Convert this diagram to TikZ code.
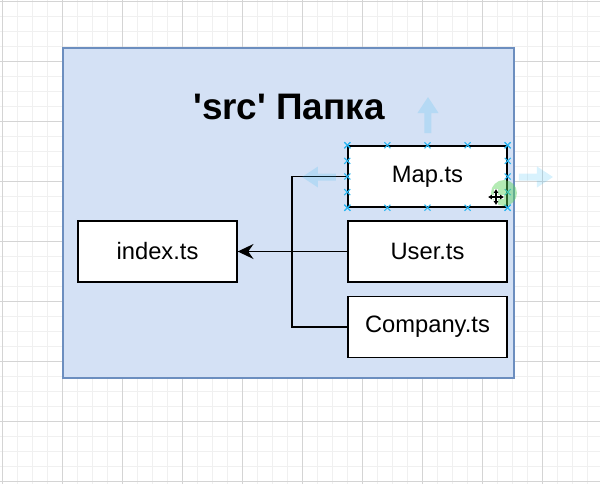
\documentclass[tikz,border=0pt]{standalone}
\usepackage{fontspec}
\setmainfont{Liberation Sans}
\usetikzlibrary{arrows.meta, positioning, calc}
\definecolor{gridlight}{HTML}{F0F0F0}
\definecolor{griddark}{HTML}{D4D4D4}
\definecolor{folderfill}{HTML}{D4E1F5}
\definecolor{folderline}{HTML}{6C8EBF}
\definecolor{handleblue}{HTML}{29B6F2}
\definecolor{grabgreen}{HTML}{5AD35A}

\tikzset{
  gridminor/.style={gridlight, line width=0.6pt},
  gridmajor/.style={griddark, line width=0.6pt},
  folderbox/.style={draw=folderline, fill=folderfill, line width=0.8pt},
  foldertitle/.style={font=\fontsize{21}{24}\selectfont\bfseries},
  filebox/.style={draw=black, fill=white, line width=0.8pt, minimum width=3.18cm,
    minimum height=1.22cm, inner sep=0pt, font=\fontsize{13.5}{16}\selectfont},
  link/.style={draw=black, line width=0.8pt},
  handlemark/.style={handleblue, line width=0.6pt},
  hoverarrow/.style={fill=handleblue, fill opacity=0.18}
}

\begin{document}
\begin{tikzpicture}[x=0.02cm, y=-0.02cm]
  \useasboundingbox (0,0) rectangle (600,484);

  % background grid
  \foreach \gx in {2.7,17.7,...,600} \draw[gridminor] (\gx,0) -- (\gx,484);
  \foreach \gy in {1.7,16.7,...,484} \draw[gridminor] (0,\gy) -- (600,\gy);
  \foreach \gx in {2.7,62.7,...,600} \draw[gridmajor] (\gx,0) -- (\gx,484);
  \foreach \gy in {1.7,61.7,...,484} \draw[gridmajor] (0,\gy) -- (600,\gy);

  % the folder
  \draw[folderbox] (63,48) rectangle (514,378);
  \node[foldertitle] (title) at (289,107) {\textquotesingle src\textquotesingle{} Папка};

  % files
  \node[filebox] (index) at (157.5,251.5) {index.ts};
  \node[filebox] (map) at (427.5,176.5) {Map.ts};
  \node[filebox] (user) at (427.5,251.5) {User.ts};
  \node[filebox] (company) at (427.5,327) {Company.ts};

  % imports into index.ts
  \coordinate (junction) at (292,176.5);
  \draw[link] (map.west) -- (junction) |- (company.west);
  \draw[link, -{Stealth[length=9pt, width=8.5pt, inset=3pt]}] (user.west) -- (index.east);

  % hover arrows round the selected box
  \fill[hoverarrow] (428,97) -- (438.5,113) -- (431.5,113) -- (431.5,133)
    -- (424.5,133) -- (424.5,113) -- (417.5,113) -- cycle;
  \fill[hoverarrow] (302,177) -- (318,166.5) -- (318,173.5) -- (336,173.5)
    -- (336,180.5) -- (318,180.5) -- (318,187.5) -- cycle;
  \fill[hoverarrow] (553,177) -- (537,166.5) -- (537,173.5) -- (519,173.5)
    -- (519,180.5) -- (537,180.5) -- (537,187.5) -- cycle;

  % selection handles on Map.ts
  \foreach \f in {0,0.25,0.5,0.75,1} {
    \draw[handlemark] ($(map.north west)!\f!(map.north east)$) +(-3,-3) -- +(3,3) +(-3,3) -- +(3,-3);
    \draw[handlemark] ($(map.south west)!\f!(map.south east)$) +(-3,-3) -- +(3,3) +(-3,3) -- +(3,-3);
    \draw[handlemark] ($(map.north west)!\f!(map.south west)$) +(-3,-3) -- +(3,3) +(-3,3) -- +(3,-3);
    \draw[handlemark] ($(map.north east)!\f!(map.south east)$) +(-3,-3) -- +(3,3) +(-3,3) -- +(3,-3);
  }

  % grab point and move cursor
  \fill[grabgreen, opacity=0.45] (504,193) circle (13);
  \draw[white, line width=2.4pt] (488,197) -- (504,197) (496,189) -- (496,205);
  \draw[black, line width=0.8pt, {Latex[length=2.2pt, width=3pt]}-{Latex[length=2.2pt, width=3pt]}] (488,197) -- (504,197);
  \draw[black, line width=0.8pt, {Latex[length=2.2pt, width=3pt]}-{Latex[length=2.2pt, width=3pt]}] (496,189) -- (496,205);
\end{tikzpicture}
\end{document}
